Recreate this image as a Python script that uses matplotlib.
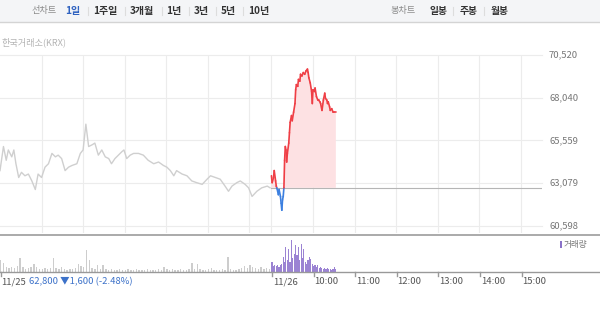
import numpy as np
import matplotlib
matplotlib.use("Agg")
import matplotlib.pyplot as plt
from matplotlib.collections import LineCollection
from matplotlib.patches import Rectangle
from matplotlib.lines import Line2D

plt.rcParams['font.family'] = ['Noto Sans CJK KR', 'DejaVu Sans']

# ---------------- data ----------------
prev_close = 62800
day2_offset = 392  # minutes position of 11/26 09:00 on the continuous axis

day1_min = [0, 5, 9, 12, 17, 20, 23, 27, 31, 36, 41, 46, 51, 55, 60, 65, 70, 75, 80, 84,
            89, 94, 99, 104, 111, 116, 120, 124, 128, 133, 137, 142, 147, 152, 157, 161,
            166, 171, 176, 179, 183, 188, 193, 200, 207, 214, 222, 229, 236, 241, 246,
            251, 255, 263, 270, 277, 284, 292, 299, 304, 311, 318, 325, 330, 335, 342,
            347, 354, 359, 364, 371, 378, 386, 390]
day1_price = [63800, 65200, 64400, 65000, 64600, 65000, 64200, 63400, 63700, 63500, 63600,
              63200, 62700, 63600, 63400, 64000, 64200, 64800, 64600, 64700, 64500, 63800,
              64000, 64100, 64200, 64800, 65000, 66500, 65200, 65300, 65400, 64700, 65000,
              64600, 64500, 64200, 64500, 64700, 64900, 65000, 64500, 64700, 64800, 64800,
              64700, 64400, 64200, 64300, 64100, 64000, 63800, 63500, 63800, 63600, 63500,
              63200, 63100, 63000, 63300, 63500, 63400, 63300, 62900, 62600, 62900, 63100,
              63200, 63000, 62800, 62300, 62600, 62800, 62900, 62800]

day2_min = [0, 1, 3, 4, 6, 7, 9, 10, 11, 13, 14, 15, 16, 17, 18, 19, 20, 21, 22, 23, 25,
            26, 27, 29, 30, 32, 34, 35, 36, 38, 39, 41, 42, 44, 46, 48, 50, 52, 53, 54, 56,
            58, 59, 60, 62, 63, 65, 67, 68, 70, 71, 73, 75, 77, 78, 80, 81, 82, 84, 85, 87,
            89, 91, 93]
day2_price = [63500, 63100, 63400, 63800, 63200, 62900, 62600, 62400, 62700, 62300,
              61900, 61500, 62100, 62300, 62800, 64400, 65200, 65000, 64300, 64800,
              65400, 66000, 66600, 67000, 66700, 67200, 67700, 68500, 68800, 68700,
              69100, 69000, 69400, 69300, 69500, 69400, 69600, 69700, 69500, 69200,
              68900, 68400, 67700, 68500, 68400, 68600, 68100, 67900, 67900, 67800,
              67700, 67300, 67900, 68300, 68000, 67900, 67700, 67800, 67500, 67300,
              67400, 67200, 67200, 67200]

vol1_min = list(range(0, 390, 4))
vol1 = [12, 9, 5, 4, 5, 4, 6, 14, 5, 3, 4, 5, 8, 5, 3, 3, 4, 3, 4, 14,
        4, 3, 5, 3, 2, 3, 3, 4, 8, 6, 5, 22, 12, 4, 3, 7, 3, 7, 3, 2,
        3, 2, 2, 3, 2, 2, 3, 2, 2, 3, 2, 2, 2, 3, 2, 2, 2, 3, 2, 5,
        3, 2, 3, 2, 2, 3, 2, 2, 3, 9, 3, 8, 3, 2, 2, 3, 4, 2, 2, 2,
        3, 2, 15, 3, 2, 2, 3, 4, 6, 4, 7, 5, 4, 3, 5, 3, 4, 3]
vol2_min = list(range(0, 93, 2))
vol2 = [10, 6, 7, 6, 7, 5, 7, 8, 15, 10, 25, 12, 23, 10, 32, 14, 18, 27, 17, 25,
        12, 28, 14, 23, 10, 8, 12, 15, 13, 8, 6, 7, 5, 7, 4, 5, 4, 3, 4, 3,
        4, 3, 3, 2, 3, 5, 3]

y_ticks = [60598, 63079, 65559, 68040, 70520]
y_tick_labels = ["60,598", "63,079", "65,559", "68,040", "70,520"]
hour_labels = ["10:00", "11:00", "12:00", "13:00", "14:00", "15:00"]
tabs_left = ["1일", "1주일", "3개월", "1년", "3년", "5년", "10년"]
tabs_right = ["일봉", "주봉", "월봉"]

# ---------------- figure ----------------
W, H = 600, 335
fig = plt.figure(figsize=(6, 3.35), dpi=100)
fig.patch.set_facecolor('white')

def fx(x):
    return x / W

def fy(y):
    return 1 - y / H

# top bar
fig.patches.append(Rectangle((0, fy(21.5)), 1, 21.5 / H, transform=fig.transFigure,
                             facecolor='#f4f5f7', edgecolor='none', zorder=0))
fig.lines.append(Line2D([0, 1], [fy(21.5), fy(21.5)], transform=fig.transFigure,
                        color='#d4d4d4', lw=1))

ty = fy(11)
fig.text(fx(32), ty, "선차트", fontsize=6.6, color='#8a8a8a', va='center', ha='left')
tab_x = [65, 93, 130, 166, 194, 221, 248]
sep_x = [88, 125, 161.5, 189, 216, 243]
for i, (lab, x) in enumerate(zip(tabs_left, tab_x)):
    fig.text(fx(x), ty, lab, fontsize=7.2, fontweight='bold',
             color='#2f62c0' if i == 0 else '#333333', va='center', ha='left')
for x in sep_x:
    fig.lines.append(Line2D([fx(x), fx(x)], [fy(7), fy(15)], transform=fig.transFigure,
                            color='#dddddd', lw=0.8))
fig.text(fx(391), ty, "봉차트", fontsize=6.6, color='#8a8a8a', va='center', ha='left')
for lab, x in zip(tabs_right, [429, 460, 491]):
    fig.text(fx(x), ty, lab, fontsize=7.0, fontweight='bold', color='#333333',
             va='center', ha='left')
for x in [453, 484]:
    fig.lines.append(Line2D([fx(x), fx(x)], [fy(7), fy(15)], transform=fig.transFigure,
                            color='#dddddd', lw=0.8))

fig.text(fx(2), fy(42), "한국거래소(KRX)", fontsize=6.6, color='#b4b4b4', va='center', ha='left')

# ---------------- main price axes ----------------
xmax = day2_offset + 390
ax = fig.add_axes([0, fy(233), fx(541.5), (233 - 55) / H])
ax.set_xlim(0, xmax)
ax.set_ylim(60174, 70520)
for s in ax.spines.values():
    s.set_visible(False)
ax.set_xticks([])
ax.set_yticks([])
ax.patch.set_alpha(0)

for v in y_ticks:
    ax.axhline(v, color='#ececec', lw=0.8, zorder=0, clip_on=False)
vgrid = [60 * h for h in range(1, 7)] + [day2_offset] + [day2_offset + 60 * h for h in range(1, 7)]
for v in vgrid:
    ax.axvline(v, color='#ececec', lw=0.8, zorder=0)

for v, lab in zip(y_ticks, y_tick_labels):
    ax.annotate(lab, xy=(1, v), xycoords=('axes fraction', 'data'), xytext=(7.5, 0),
                textcoords='offset pixels', fontsize=6.8, color='#777777',
                va='center', ha='left', annotation_clip=False)

# day1 line
ax.plot(day1_min, day1_price, color='#cfcfcf', lw=1.0, zorder=3)

# baseline (previous close)
ax.plot([day2_offset, xmax], [prev_close, prev_close], color='#b5b5b5', lw=0.8, zorder=2)

# day2 line coloured by side of baseline
x2 = np.array(day2_min, dtype=float) + day2_offset
p2 = np.array(day2_price, dtype=float)
ax.fill_between(x2, prev_close, p2, where=p2 >= prev_close, interpolate=True,
                color='#fde1e3', lw=0, zorder=1)
segs, cols = [], []
red, blue = '#ef3e45', '#3b7fe0'
for i in range(len(x2) - 1):
    xa, xb, ya, yb = x2[i], x2[i + 1], p2[i], p2[i + 1]
    da, db = ya - prev_close, yb - prev_close
    if da * db < 0:
        t = da / (da - db)
        xc = xa + t * (xb - xa)
        segs.append([(xa, ya), (xc, prev_close)])
        cols.append(red if da > 0 else blue)
        segs.append([(xc, prev_close), (xb, yb)])
        cols.append(red if db > 0 else blue)
    else:
        segs.append([(xa, ya), (xb, yb)])
        s = da + db
        cols.append(red if s >= 0 else blue)
ax.add_collection(LineCollection(segs, colors=cols, linewidths=1.2, zorder=4,
                                 capstyle='round', joinstyle='round'))

# separator line
fig.lines.append(Line2D([0, 1], [fy(234.5), fy(234.5)], transform=fig.transFigure,
                        color='#aaaaaa', lw=1.4))

# ---------------- volume axes ----------------
axv = fig.add_axes([0, fy(271.5), fx(541.5), (271.5 - 235.5) / H])
axv.set_xlim(0, xmax)
axv.set_ylim(0, 36)
for s in axv.spines.values():
    s.set_visible(False)
axv.set_xticks([])
axv.set_yticks([])
axv.patch.set_alpha(0)
axv.bar(vol1_min, vol1, width=2.0, color='#cdcdcd', align='edge', lw=0)
axv.bar(np.array(vol2_min) + day2_offset, vol2, width=1.7, color='#9b83d3', align='edge', lw=0)

fig.lines.append(Line2D([0, 1], [fy(272), fy(272)], transform=fig.transFigure,
                        color='#999999', lw=1.0))

# legend
fig.patches.append(Rectangle((fx(560), fy(248)), 2 / W, 7 / H, transform=fig.transFigure,
                             facecolor='#8a72c8', edgecolor='none'))
fig.text(fx(563.5), fy(244.5), "거래량", fontsize=6.2, color='#777777', va='center', ha='left')

# x ticks and labels
tick_pos = [0, day2_offset] + [day2_offset + 60 * h for h in range(1, 7)]
tick_labels = ["11/25", "11/26"] + hour_labels
for v, lab in zip(tick_pos, tick_labels):
    xpx = v / xmax * 541.5
    fig.lines.append(Line2D([fx(xpx + 0.8), fx(xpx + 0.8)], [fy(272), fy(275.5)],
                            transform=fig.transFigure, color='#999999', lw=1.0))
    fig.text(fx(xpx + 1.5), fy(282), lab, fontsize=6.8, color='#555555',
             va='center', ha='left')

fig.text(fx(29), fy(282), "62,800 ▼1,600 (-2.48%)", fontsize=6.8, color='#3d72c9',
         va='center', ha='left')

fig.savefig("out.png", dpi=100)
